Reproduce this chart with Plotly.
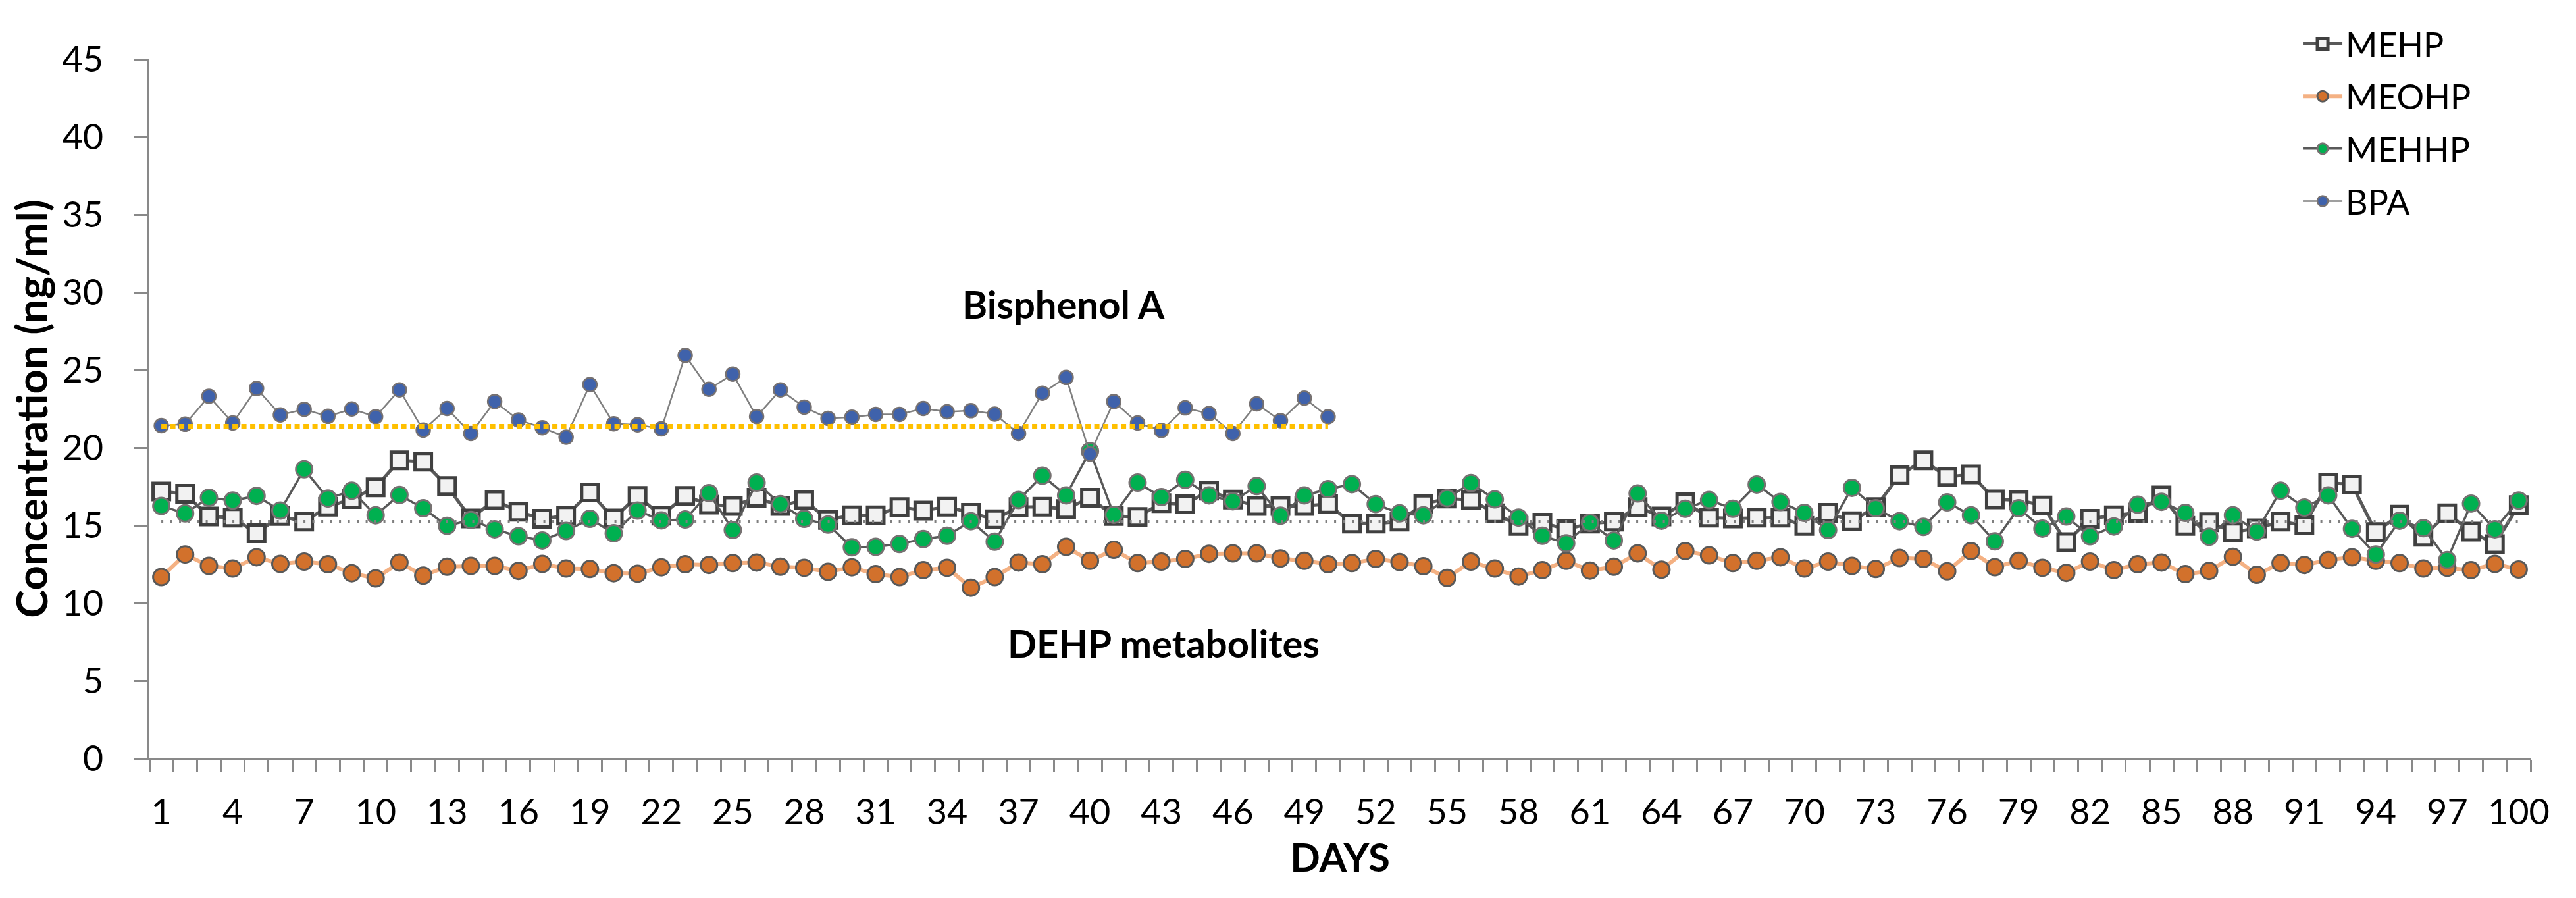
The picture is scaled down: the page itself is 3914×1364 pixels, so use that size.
import plotly.graph_objects as go

# ---------------- data ----------------
days = list(range(1, 101))
bpa_days = list(range(1, 51))
x_tick_labels = [str(d) for d in range(1, 101, 3)]

MEHP = [17.18, 17.03, 15.57, 15.50, 14.49, 15.60, 15.24, 16.20, 16.70, 17.45,
        19.18, 19.10, 17.53, 15.45, 16.63, 15.88, 15.42, 15.62, 17.12, 15.45,
        16.90, 15.62, 16.90, 16.33, 16.25, 16.78, 16.25, 16.63, 15.35, 15.65,
        15.65, 16.18, 15.95, 16.20, 15.80, 15.39, 16.18, 16.20, 16.05, 16.78,
        15.60, 15.54, 16.43, 16.36, 17.23, 16.66, 16.25, 16.25, 16.25, 16.37,
        15.12, 15.12, 15.24, 16.37, 16.73, 16.63, 15.77, 14.97, 15.17, 14.75,
        15.12, 15.24, 16.18, 15.57, 16.48, 15.50, 15.45, 15.50, 15.50, 14.97,
        15.80, 15.27, 16.18, 18.23, 19.18, 18.12, 18.28, 16.67, 16.63, 16.28,
        13.92, 15.42, 15.65, 15.80, 16.93, 14.97, 15.20, 14.57, 14.81, 15.24,
        15.00, 17.75, 17.63, 14.57, 15.69, 14.27, 15.77, 14.60, 13.79, 16.30]

MEOHP = [11.67, 13.13, 12.39, 12.22, 12.95, 12.52, 12.67, 12.50, 11.92, 11.59,
         12.61, 11.77, 12.34, 12.39, 12.39, 12.07, 12.52, 12.22, 12.19, 11.92,
         11.89, 12.30, 12.50, 12.45, 12.57, 12.61, 12.34, 12.27, 12.01, 12.30,
         11.86, 11.67, 12.12, 12.27, 10.99, 11.67, 12.61, 12.50, 13.62, 12.72,
         13.43, 12.57, 12.67, 12.84, 13.17, 13.20, 13.20, 12.87, 12.72, 12.50,
         12.57, 12.84, 12.64, 12.37, 11.62, 12.67, 12.22, 11.71, 12.12, 12.72,
         12.09, 12.34, 13.20, 12.15, 13.35, 13.07, 12.57, 12.72, 12.95, 12.22,
         12.67, 12.39, 12.19, 12.90, 12.84, 12.04, 13.35, 12.31, 12.72, 12.27,
         11.94, 12.67, 12.12, 12.50, 12.61, 11.86, 12.07, 12.98, 11.82, 12.57,
         12.45, 12.77, 12.95, 12.72, 12.57, 12.22, 12.27, 12.12, 12.52, 12.16]

MEHHP = [16.25, 15.77, 16.78, 16.60, 16.90, 15.95, 18.61, 16.73, 17.23, 15.65,
         16.96, 16.10, 14.97, 15.35, 14.75, 14.30, 14.03, 14.64, 15.42, 14.49,
         15.95, 15.32, 15.38, 17.08, 14.70, 17.75, 16.37, 15.42, 15.05, 13.59,
         13.62, 13.80, 14.12, 14.33, 15.27, 13.95, 16.63, 18.20, 16.93, 19.78,
         15.68, 17.75, 16.82, 17.93, 16.93, 16.55, 17.53, 15.62, 16.93, 17.33,
         17.65, 16.37, 15.77, 15.65, 16.75, 17.72, 16.67, 15.50, 14.33, 13.85,
         15.17, 14.03, 17.05, 15.30, 16.07, 16.63, 16.07, 17.63, 16.50, 15.80,
         14.70, 17.42, 16.10, 15.27, 14.90, 16.48, 15.65, 13.97, 16.10, 14.79,
         15.57, 14.30, 14.93, 16.33, 16.52, 15.80, 14.27, 15.65, 14.60, 17.23,
         16.14, 16.93, 14.78, 13.13, 15.30, 14.82, 12.77, 16.40, 14.75, 16.60]

BPA = [21.42, 21.51, 23.31, 21.59, 23.81, 22.11, 22.47, 22.02, 22.49, 21.99,
       23.72, 21.13, 22.52, 20.91, 22.97, 21.78, 21.28, 20.68, 24.06, 21.54,
       21.47, 21.21, 25.94, 23.76, 24.74, 22.00, 23.72, 22.61, 21.89, 21.96,
       22.14, 22.14, 22.52, 22.31, 22.38, 22.16, 20.91, 23.51, 24.52, 19.59,
       22.97, 21.59, 21.10, 22.56, 22.19, 20.91, 22.82, 21.74, 23.19, 21.99]

# reference (dotted) levels
BPA_REF = [21.36, 21.36]
DEHP_REF = [15.24, 15.24]

FONT = "Lato"
AXIS_GRAY = "#898989"

fig = go.Figure()

fig.add_trace(go.Scatter(
    x=days, y=MEHP, name="MEHP", mode="lines+markers", legendgroup="a",
    line=dict(color="#595959", width=5),
    marker=dict(symbol="square", size=25, color="#F2F2F2",
                line=dict(color="#404040", width=5))))

fig.add_trace(go.Scatter(
    x=days, y=MEOHP, name="MEOHP", mode="lines+markers", legendgroup="b",
    line=dict(color="#F4B183", width=6),
    marker=dict(symbol="circle", size=25, color="#D2712C",
                line=dict(color="#595959", width=3))))

fig.add_trace(go.Scatter(
    x=days, y=MEHHP, name="MEHHP", mode="lines+markers", legendgroup="c",
    line=dict(color="#595959", width=3.5),
    marker=dict(symbol="circle", size=25, color="#00B050",
                line=dict(color="#767171", width=3))))

fig.add_trace(go.Scatter(
    x=bpa_days, y=BPA, name="BPA", mode="lines+markers", legendgroup="d",
    line=dict(color="#7F7F7F", width=2.5),
    marker=dict(symbol="circle", size=21, color="#3F62AB",
                line=dict(color="#767171", width=2.5))))

fig.add_trace(go.Scatter(
    x=[bpa_days[0], bpa_days[-1]], y=BPA_REF, mode="lines", showlegend=False,
    hoverinfo="skip", line=dict(color="#FFC000", width=8, dash="8px,5.5px")))

fig.add_trace(go.Scatter(
    x=[days[0], days[-1]], y=DEHP_REF, mode="lines", showlegend=False,
    hoverinfo="skip", line=dict(color="#7F7F7F", width=4.5, dash="3px,10.5px")))

# the page body has an 8px default margin, so the figure is sized to fit inside it
fig.update_layout(
    width=3898, height=1348,
    margin=dict(l=219, r=61, t=82, b=204, autoexpand=False),
    paper_bgcolor="white", plot_bgcolor="white",
    font=dict(family=FONT, color="black"),
    showlegend=True,
    legend=dict(x=0.903, y=1.060, xanchor="left", yanchor="top",
                font=dict(family=FONT, size=52, color="black"),
                bgcolor="rgba(0,0,0,0)", itemwidth=60, tracegroupgap=9),
    xaxis=dict(
        range=[0.5, 100.5], tickmode="array",
        tickvals=[int(t) for t in x_tick_labels], ticktext=x_tick_labels,
        ticks="outside", ticklen=18, tickwidth=3, tickcolor="rgba(0,0,0,0)",
        showline=True, linecolor=AXIS_GRAY, linewidth=3,
        showgrid=False, zeroline=False,
        tickfont=dict(family=FONT, size=54, color="black"),
        ticklabelstandoff=14,
        minor=dict(ticks="outside", tick0=0.5, dtick=1, ticklen=18,
                   tickwidth=3, tickcolor=AXIS_GRAY, showgrid=False),
        title=dict(text="DAYS", standoff=20,
                   font=dict(family=FONT, size=60, color="black", weight="bold")),
    ),
    yaxis=dict(
        range=[0, 45], tickmode="linear", tick0=0, dtick=5,
        ticks="outside", ticklen=20, tickwidth=3, tickcolor=AXIS_GRAY,
        showline=True, linecolor=AXIS_GRAY, linewidth=3,
        showgrid=False, zeroline=False,
        tickfont=dict(family=FONT, size=54, color="black"),
        ticklabelstandoff=36,
        title=dict(text="Concentration (ng/ml)", standoff=4,
                   font=dict(family=FONT, size=65, color="black", weight="bold")),
    ),
    annotations=[
        dict(text="Bisphenol A", xref="paper", yref="paper", x=0.384, y=0.650,
             xanchor="center", yanchor="middle", showarrow=False,
             font=dict(family=FONT, size=58, color="black", weight="bold")),
        dict(text="DEHP metabolites", xref="paper", yref="paper", x=0.426, y=0.165,
             xanchor="center", yanchor="middle", showarrow=False,
             font=dict(family=FONT, size=58, color="black", weight="bold")),
    ],
)

fig.write_html("out.html")
